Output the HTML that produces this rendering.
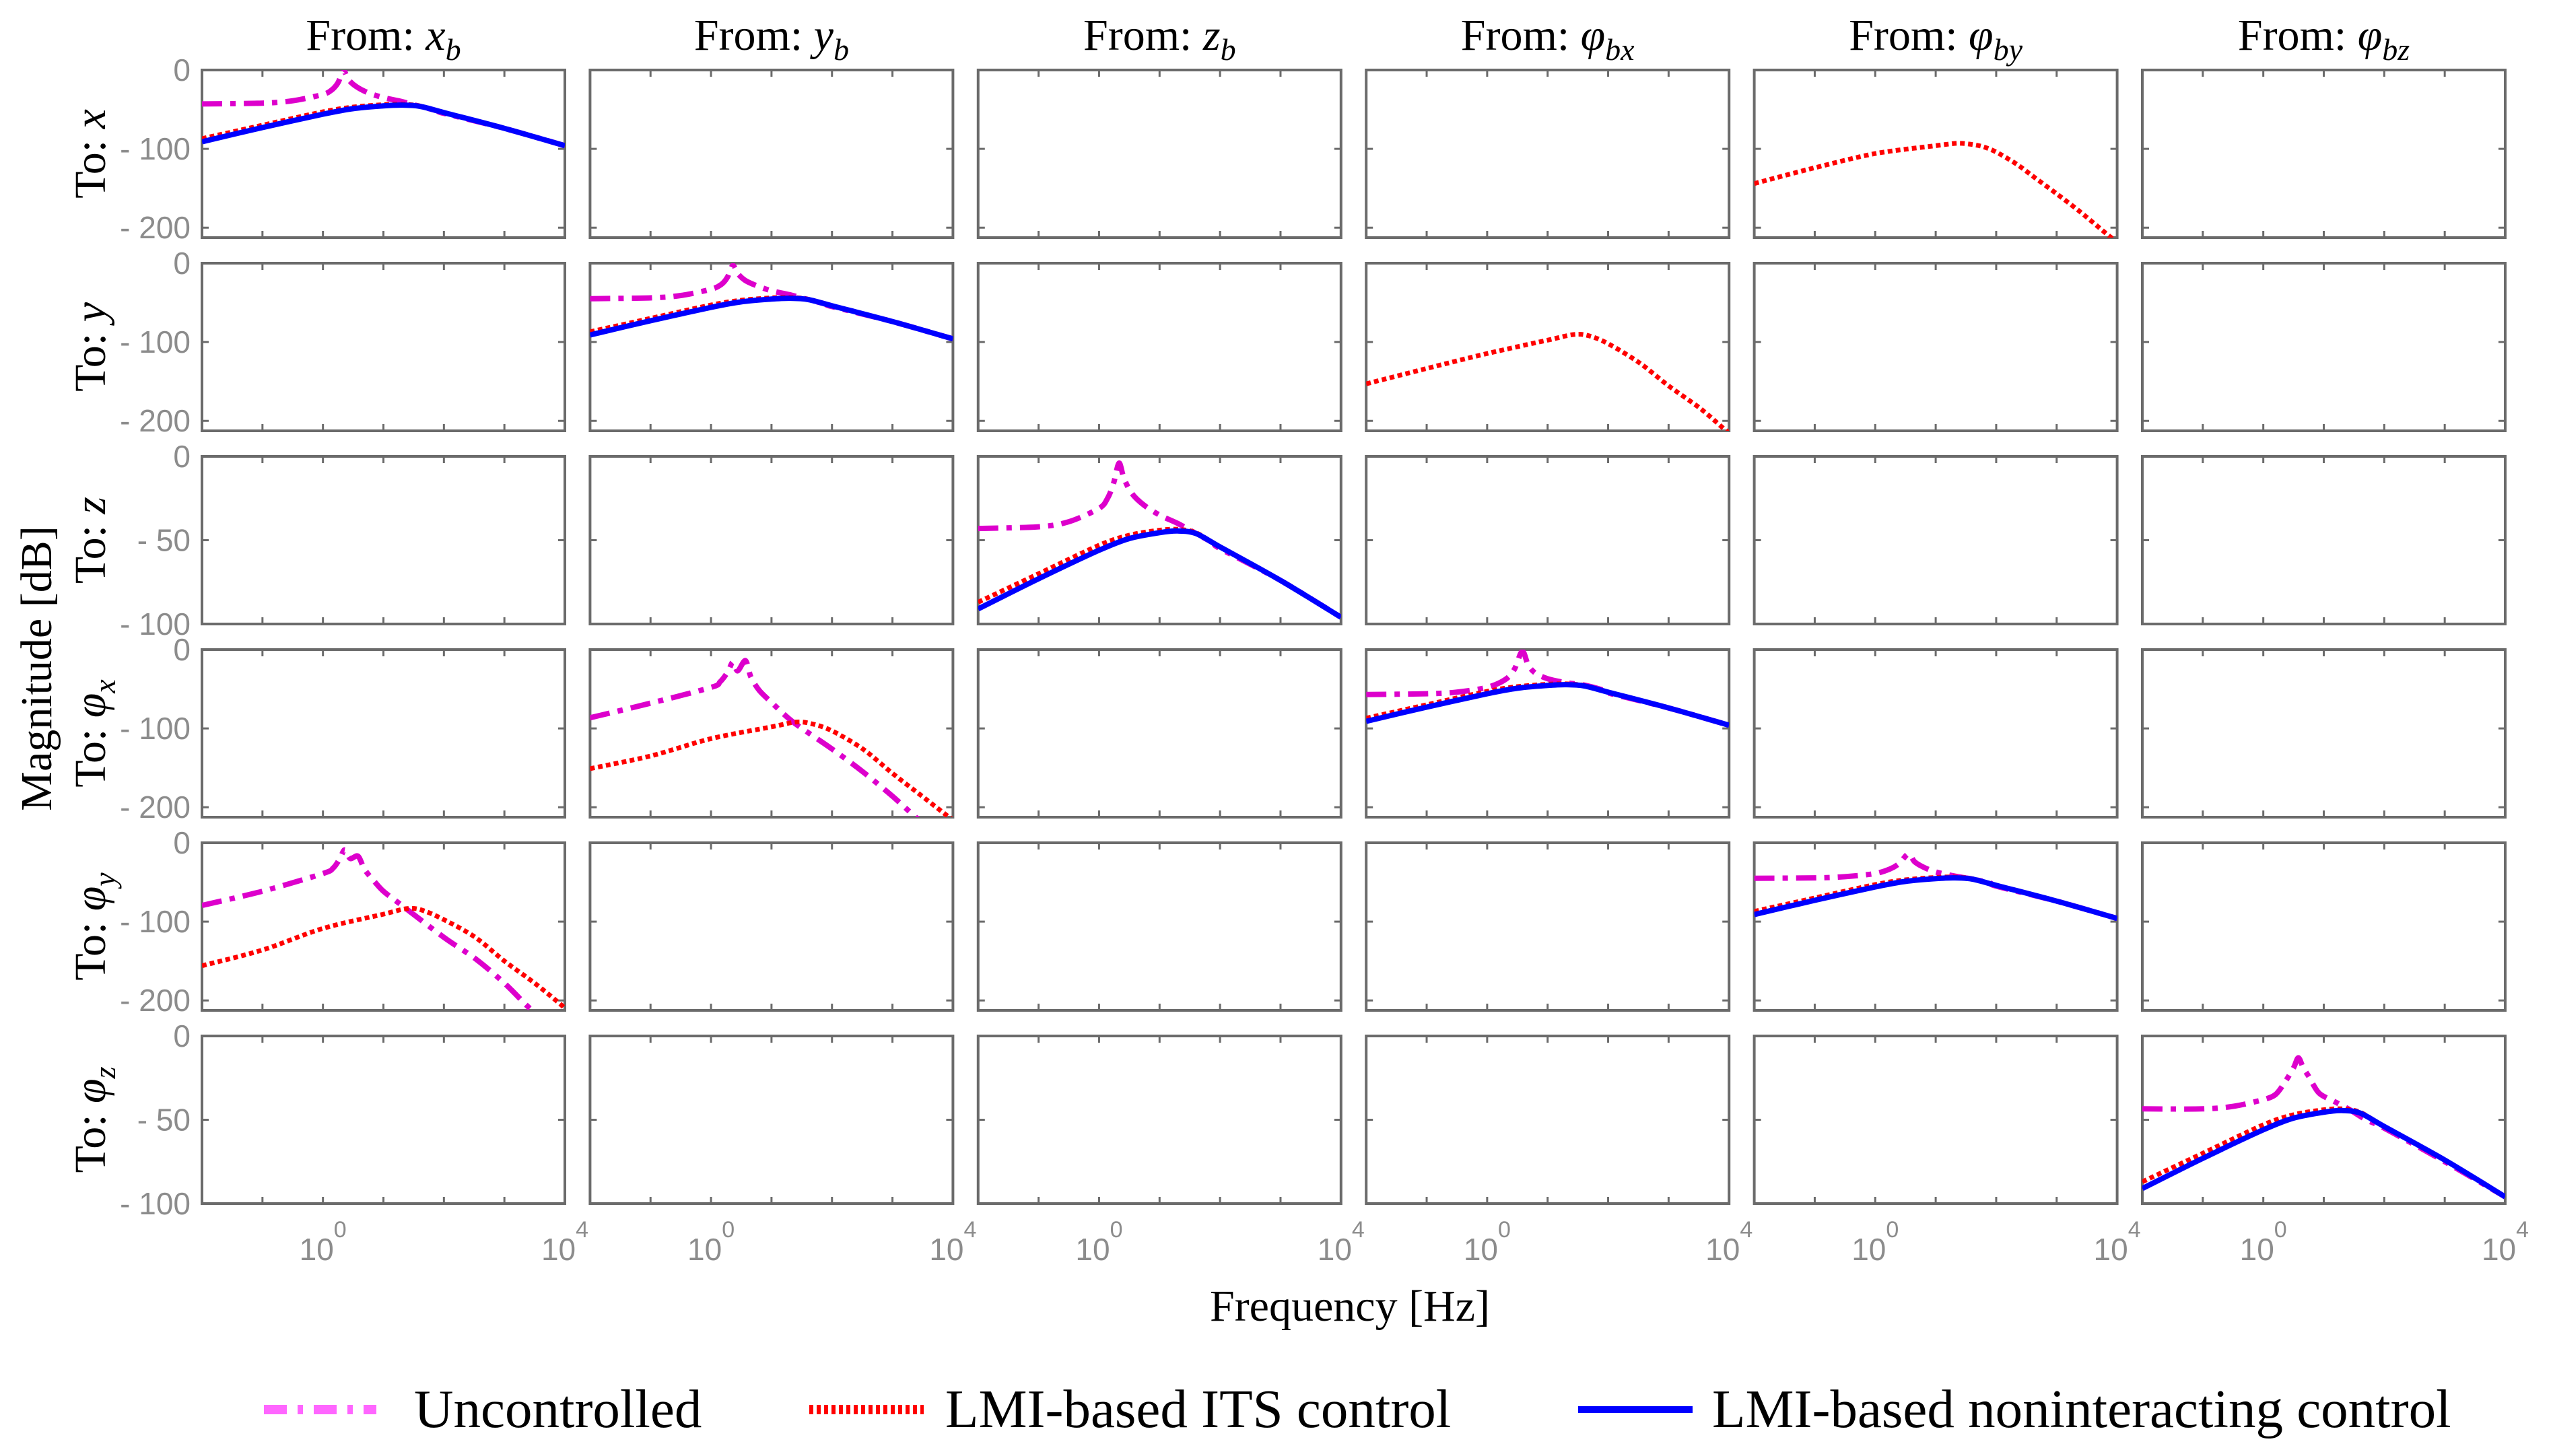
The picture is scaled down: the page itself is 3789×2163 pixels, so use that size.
<!DOCTYPE html>
<html>
<head>
<meta charset="utf-8">
<style>
  html, body { margin: 0; padding: 0; background: #ffffff; }
  svg { display: block; }
  .ttl { font-family: "Liberation Serif", serif; font-size: 66px; fill: #000; }
  .tick { font-family: "Liberation Sans", sans-serif; font-size: 46px; fill: #8c8c8c; }
  .leg { font-family: "Liberation Serif", serif; font-size: 81px; fill: #000; }
</style>
</head>
<body>
<svg id="chart" xmlns="http://www.w3.org/2000/svg" width="3789" height="2163" viewBox="0 0 3789 2163">
  <rect x="0" y="0" width="3789" height="2163" fill="#ffffff"/>
  <g id="panels"></g>
  <g id="labels">
    <text class="ttl" x="2005" y="1962" text-anchor="middle" font-size="76">Frequency [Hz]</text>
    <text class="ttl" transform="translate(76,993) rotate(-90)" text-anchor="middle" font-size="76">Magnitude [dB]</text>
  </g>
  <g id="legend">
    <line x1="392" y1="2094" x2="559" y2="2094" stroke="#ff66ff" stroke-width="14" stroke-dasharray="34 16 8 16"/>
    <text class="leg" x="615" y="2120">Uncontrolled</text>
    <line x1="1202" y1="2094" x2="1372" y2="2094" stroke="#ff0000" stroke-width="14" stroke-dasharray="6 5"/>
    <text class="leg" x="1404" y="2120">LMI-based ITS control</text>
    <line x1="2344" y1="2094" x2="2514" y2="2094" stroke="#0000ff" stroke-width="10"/>
    <text class="leg" x="2543" y="2120">LMI-based noninteracting control</text>
  </g>
</svg>
<script>
// ---- data (log10 frequency, magnitude dB) ----
const decadeTicks = [-2, -1, 0, 1, 2, 3, 4];
const fromLabels = ["x", "y", "z", "φ", "φ", "φ"];
const fromSubs = ["b", "b", "b", "bx", "by", "bz"];
const toLabels = ["x", "y", "z", "φ", "φ", "φ"];
const toSubs = ["", "", "", "x", "y", "z"];
const rowMin = [-212.6, -212.6, -100, -212.6, -212.6, -100];
const rowTicksA = [0, -100, -200];
const rowTicksB = [0, -50, -100];

const blueF = [-2, -1, 0, 0.5, 1, 1.3, 1.6, 2, 3, 4];
const blueM = [-91, -73, -56, -49, -45.5, -44.5, -46, -54, -74, -96];
const redDiagF = [-2, -1, 0, 0.5, 1, 1.3, 1.6, 2, 3, 4];
const redDiagM = [-87, -70, -53, -47, -44, -43.5, -45.5, -54, -74, -96];

const mag00F = [-2, -1, -0.5, 0, 0.15, 0.25, 0.34, 0.42, 0.55, 0.75, 1, 1.3, 1.6, 1.9, 2, 3, 4];
const mag00M = [-43, -42, -39, -31, -25, -16, -1, -12, -21, -29, -35, -40, -46, -52, -55, -74, -96];
const mag11F = [-2, -1, -0.5, 0, 0.17, 0.27, 0.36, 0.44, 0.57, 0.77, 1, 1.3, 1.6, 1.9, 2, 3, 4];
const mag11M = [-45, -44, -41, -33, -27, -18, -3, -13, -22, -29, -35, -40, -46, -52, -55, -74, -96];
const mag22F = [-2, -1, -0.5, 0, 0.14, 0.24, 0.33, 0.41, 0.54, 0.74, 1, 1.3, 1.6, 1.9, 2, 3, 4];
const mag22M = [-43, -42, -39, -31, -25, -16, -4, -13, -22, -29, -35, -40, -46, -52, -55, -74, -96];
const mag33F = [-2, -1, -0.5, 0, 0.3, 0.45, 0.58, 0.68, 0.8, 1, 1.3, 1.6, 1.9, 2, 3, 4];
const mag33M = [-57, -56, -54, -48, -38, -25, -2, -20, -30, -37, -42, -45, -51, -55, -74, -96];
const mag44F = [-2, -1, -0.5, 0, 0.25, 0.4, 0.55, 0.65, 0.8, 1, 1.3, 1.6, 1.9, 2, 3, 4];
const mag44M = [-45, -44.5, -43, -39, -33, -26, -14, -24, -31, -37, -42, -46, -51, -55, -74, -96];
const mag55F = [-2, -1, -0.5, 0, 0.2, 0.35, 0.5, 0.58, 0.66, 0.75, 0.92, 1.17, 1.43, 1.7, 2, 3, 4];
const mag55M = [-43.5, -43.5, -42, -38, -35, -28, -19, -13, -19, -24, -34, -39, -44, -50, -55, -75, -96];

const red04F = [-2, -1, 0, 1, 1.35, 1.56, 1.77, 2, 2.33, 2.63, 3, 3.39, 3.86, 4];
const red04M = [-144, -124, -106, -96, -93, -94, -97, -104, -119, -136, -157, -180, -210, -218];
const red13F = [-2, -1, 0, 1, 1.43, 1.68, 2, 2.53, 3, 3.52, 3.9, 4];
const red13M = [-153, -133.5, -114.6, -97.6, -90.5, -92, -102, -127, -155.6, -184, -209, -215];
const red31F = [-2, -1, 0, 1, 1.4, 1.66, 2, 2.51, 3, 3.49, 3.91, 4];
const red31M = [-151, -135, -113, -98, -92, -94, -103, -126, -157, -186, -211, -216];
const mag31F = [-2, -1, 0, 0.15, 0.28, 0.36, 0.44, 0.57, 0.66, 0.8, 1, 1.36, 2, 2.51, 3, 3.36, 3.5];
const mag31M = [-86.5, -68, -48, -41, -28, -16, -27, -14, -35, -52, -67, -92, -126, -155, -186, -211, -220];
const red40F = [-2, -1, 0, 1, 1.37, 1.62, 2, 2.52, 3, 3.5, 3.9, 4];
const red40M = [-156, -136, -108.6, -90.6, -83.7, -85, -97.5, -120, -150, -178, -203, -210];
const mag40F = [-2, -1, 0, 0.17, 0.28, 0.36, 0.45, 0.58, 0.69, 0.85, 1, 1.28, 2, 2.52, 3, 3.35, 3.5];
const mag40M = [-79.5, -61.5, -39, -32, -20, -9, -20, -17, -34, -49, -61.5, -78, -120, -147, -178, -205, -215];

// series per panel: [row, col, kind, F, M]
const seriesList = [
  [0, 0, "unc", mag00F, mag00M], [0, 0, "its", redDiagF, redDiagM], [0, 0, "non", blueF, blueM],
  [1, 1, "unc", mag11F, mag11M], [1, 1, "its", redDiagF, redDiagM], [1, 1, "non", blueF, blueM],
  [2, 2, "unc", mag22F, mag22M], [2, 2, "its", redDiagF, redDiagM], [2, 2, "non", blueF, blueM],
  [3, 3, "unc", mag33F, mag33M], [3, 3, "its", redDiagF, redDiagM], [3, 3, "non", blueF, blueM],
  [4, 4, "unc", mag44F, mag44M], [4, 4, "its", redDiagF, redDiagM], [4, 4, "non", blueF, blueM],
  [5, 5, "unc", mag55F, mag55M], [5, 5, "its", redDiagF, redDiagM], [5, 5, "non", blueF, blueM],
  [0, 4, "its", red04F, red04M],
  [1, 3, "its", red13F, red13M],
  [3, 1, "unc", mag31F, mag31M], [3, 1, "its", red31F, red31M],
  [4, 0, "unc", mag40F, mag40M], [4, 0, "its", red40F, red40M]
];

// ---- layout ----
const NS = "http://www.w3.org/2000/svg";
const L0 = 300, PX = 576.4, W = 539, T0 = 104, PY = 287, H = 249;
const XMIN = -2, XMAX = 4;
function panelX(c) { return L0 + PX * c; }
function panelY(r) { return T0 + PY * r; }
function xScale(c, lf) { return panelX(c) + (lf - XMIN) / (XMAX - XMIN) * W; }
function yScale(r, db) { return panelY(r) + (0 - db) / (0 - rowMin[r]) * H; }

const root = document.getElementById("panels");
const defs = document.createElementNS(NS, "defs");
root.appendChild(defs);

function mk(tag, attrs) {
  const e = document.createElementNS(NS, tag);
  for (const k in attrs) e.setAttribute(k, attrs[k]);
  return e;
}

for (let r = 0; r < 6; r++) {
  for (let c = 0; c < 6; c++) {
    const x0 = panelX(c), y0 = panelY(r);
    const cp = mk("clipPath", { id: "clip" + r + c });
    cp.appendChild(mk("rect", { x: x0, y: y0, width: W, height: H }));
    defs.appendChild(cp);
    const g = mk("g", {});
    
    
    root.appendChild(g);
    const box = mk("rect", { x: x0, y: y0, width: W, height: H, fill: "none", stroke: "#6b6b6b", "stroke-width": 4 });
    
    
    g.appendChild(box);
    decadeTicks.forEach(function (d) {
      const xx = xScale(c, d);
      const t1 = mk("line", { x1: xx, y1: y0 + H, x2: xx, y2: y0 + H - 10, stroke: "#6b6b6b", "stroke-width": 3 });
      
      
      g.appendChild(t1);
      const t2 = mk("line", { x1: xx, y1: y0, x2: xx, y2: y0 + 10, stroke: "#6b6b6b", "stroke-width": 3 });
      
      
      g.appendChild(t2);
    });
    const yt = rowMin[r] < -150 ? rowTicksA : rowTicksB;
    yt.forEach(function (v) {
      const yy = yScale(r, v);
      const a = mk("line", { x1: x0, y1: yy, x2: x0 + 10, y2: yy, stroke: "#6b6b6b", "stroke-width": 3 });
      
      
      g.appendChild(a);
      const b = mk("line", { x1: x0 + W, y1: yy, x2: x0 + W - 10, y2: yy, stroke: "#6b6b6b", "stroke-width": 3 });
      
      
      g.appendChild(b);
      if (c === 0) {
        const tl = mk("text", { class: "tick", x: x0 - 17, y: yy, "text-anchor": "end", "dominant-baseline": "central" });
        
        
        tl.textContent = v === 0 ? "0" : "-  " + Math.abs(v);
        g.appendChild(tl);
      }
    });
    if (r === 5) {
      [[0, "0"], [4, "4"]].forEach(function (p) {
        const xx = xScale(c, p[0]);
        const tl = mk("text", { class: "tick", x: xx, y: 1872, "text-anchor": "middle" });
        
        
        const s1 = mk("tspan", {}); s1.textContent = "10";
        const s2 = mk("tspan", { dy: -34, "font-size": "34" }); s2.textContent = p[1];
        tl.appendChild(s1); tl.appendChild(s2);
        g.appendChild(tl);
      });
    }
  }
}

// column titles
for (let c = 0; c < 6; c++) {
  const t = mk("text", { class: "ttl", x: panelX(c) + W / 2, y: 74, "text-anchor": "middle" });
  
  
  const a = mk("tspan", {}); a.textContent = "From: ";
  const b = mk("tspan", { "font-style": "italic" }); b.textContent = fromLabels[c];
  const s = mk("tspan", { "font-style": "italic", "font-size": "46", dy: 15 }); s.textContent = fromSubs[c];
  t.appendChild(a); t.appendChild(b); t.appendChild(s);
  root.appendChild(t);
}
// row titles
for (let r = 0; r < 6; r++) {
  const cy = panelY(r) + H / 2;
  const t = mk("text", { class: "ttl", transform: "translate(156," + cy + ") rotate(-90)", "text-anchor": "middle" });
  
  
  const a = mk("tspan", {}); a.textContent = "To: ";
  const b = mk("tspan", { "font-style": "italic" }); b.textContent = toLabels[r];
  t.appendChild(a); t.appendChild(b);
  if (toSubs[r]) {
    const s = mk("tspan", { "font-style": "italic", "font-size": "46", dy: 15 }); s.textContent = toSubs[r];
    t.appendChild(s);
  }
  root.appendChild(t);
}

// series drawing (Catmull-Rom smoothing)
const styles = {
  unc: { stroke: "#dd00cc", w: 8, dash: "30 12 8 12" },
  its: { stroke: "#ff0000", w: 7, dash: "7 5" },
  non: { stroke: "#0000ff", w: 8, dash: "" }
};
function pathFor(r, c, F, M) {
  const pts = F.map(function (f, i) { return [xScale(c, f), yScale(r, M[i])]; });
  let d = "M" + pts[0][0].toFixed(1) + "," + pts[0][1].toFixed(1);
  for (let i = 0; i < pts.length - 1; i++) {
    const p0 = pts[Math.max(0, i - 1)], p1 = pts[i], p2 = pts[i + 1], p3 = pts[Math.min(pts.length - 1, i + 2)];
    const k = 0.15;
    const c1 = [p1[0] + (p2[0] - p0[0]) * k, p1[1] + (p2[1] - p0[1]) * k];
    const c2 = [p2[0] - (p3[0] - p1[0]) * k, p2[1] - (p3[1] - p1[1]) * k];
    d += " C" + c1[0].toFixed(1) + "," + c1[1].toFixed(1) + " " + c2[0].toFixed(1) + "," + c2[1].toFixed(1) + " " + p2[0].toFixed(1) + "," + p2[1].toFixed(1);
  }
  return d;
}
const order = { unc: 0, its: 1, non: 2 };
seriesList.slice().sort(function (a, b) { return order[a[2]] - order[b[2]]; }).forEach(function (s) {
  const r = s[0], c = s[1], st = styles[s[2]];
  const p = mk("path", { d: pathFor(r, c, s[3], s[4]), fill: "none", stroke: st.stroke, "stroke-width": st.w, "clip-path": "url(#clip" + r + c + ")", "stroke-linejoin": "round" });
  if (st.dash) p.setAttribute("stroke-dasharray", st.dash);
  
  
  root.appendChild(p);
});
</script>
</body>
</html>
